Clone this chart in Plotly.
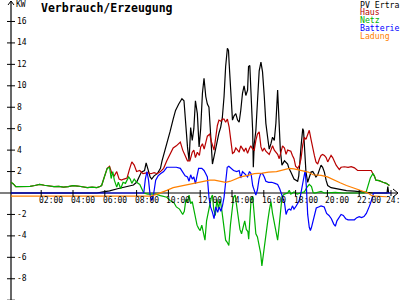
import plotly.graph_objects as go

# ---------------- data ----------------
night_t = [0.1, 0.25, 0.4, 0.7, 1.0, 1.3, 1.6, 1.9, 2.2, 2.5, 2.8, 3.1, 3.4, 3.7, 4.0, 4.3, 4.6, 4.9, 5.2, 5.5, 5.7]
night_v = [1.0, 0.85, 0.6, 0.6, 0.58, 0.62, 0.7, 0.8, 0.72, 0.65, 0.6, 0.62, 0.55, 0.6, 0.68, 0.65, 0.6, 0.5, 0.55, 0.5, 0.6]

pv_t = [0.1, 5.5, 5.9, 6.3, 6.8, 7.2, 7.5, 7.8, 8.0, 8.1, 8.3, 8.5, 8.6, 8.7, 8.85, 8.95, 9.1, 9.3, 9.5, 9.6,
        9.75, 9.93, 10.1, 10.3, 10.45, 10.65, 10.85, 10.98, 11.08, 11.2, 11.3, 11.4, 11.5, 11.6, 11.7, 11.82,
        11.93, 12.03, 12.14, 12.24, 12.35, 12.45, 12.55, 12.66, 12.77, 12.87, 12.98, 13.08, 13.18, 13.29, 13.39,
        13.5, 13.6, 13.71, 13.78, 13.82, 13.92, 14.03, 14.13, 14.24, 14.35, 14.45, 14.55, 14.66, 14.76, 14.87,
        14.98, 15.04, 15.12, 15.18, 15.3, 15.34, 15.4, 15.5, 15.6, 15.71, 15.82, 15.92, 16.03, 16.13, 16.24,
        16.34, 16.45, 16.55, 16.66, 16.76, 16.87, 16.95, 17.04, 17.14, 17.3, 17.5, 17.58, 17.7, 17.9, 18.13,
        18.2, 18.34, 18.45, 18.5, 18.59, 18.65, 18.76, 18.86, 18.97, 19.08, 19.18, 19.28, 19.39, 19.5, 19.6,
        19.7, 19.81, 19.92, 20.02, 20.23, 20.55, 20.86, 21.2, 21.7, 22.13, 22.76, 22.88, 23.75, 23.8, 23.85]
pv_v = [0, 0, 0.1, 0.2, 0.4, 0.55, 0.6, 0.75, 1.0, 1.35, 1.95, 2.1, 2.8, 2.3, 1.5, 1.3, 1.6, 1.8, 2.3, 3.0,
        3.8, 4.6, 5.7, 6.9, 7.7, 8.3, 8.8, 8.6, 6.5, 4.3, 3.0, 6.1, 4.9, 6.0, 8.6, 7.4,
        4.3, 6.0, 9.3, 10.7, 9.0, 8.3, 8.0, 5.8, 2.7, 3.4, 4.2, 5.1, 5.6, 6.15, 7.0,
        9.0, 11.8, 13.5, 13.3, 12.1, 9.6, 6.8, 7.2, 7.4, 6.8, 6.6, 7.7, 9.3, 10.0, 9.1,
        9.6, 11.8, 11.9, 9.6, 5.8, 2.4, 4.6, 5.8, 9.0, 11.4, 12.2, 11.3, 9.0, 6.5, 5.2,
        4.1, 4.6, 5.2, 4.9, 6.5, 9.6, 7.0, 4.0, 2.6, 3.0, 2.7, 2.3, 1.95, 1.3, 1.1,
        1.6, 4.3, 6.0, 5.8, 3.7, 2.0, 1.0, 1.4, 1.95, 2.0, 1.7, 1.5, 1.7, 2.26, 2.6,
        2.4, 1.95, 1.17, 0.7, 0.5, 0.4, 0.35, 0.23, 0.17, 0.1, 0.05, 0.0, 0.0, 0.6, 0.0]

haus_day_t = [5.8, 5.95, 6.15, 6.3, 6.45, 6.6, 6.75, 6.9, 7.05, 7.2, 7.4, 7.55, 7.7, 7.85, 8.0, 8.2, 8.4, 8.7, 8.9,
              9.1, 9.3, 9.5, 9.7, 9.9, 10.1, 10.3, 10.5, 10.75, 10.9, 11.05, 11.2, 11.35, 11.5, 11.6, 11.7, 11.82,
              11.95, 12.03, 12.14, 12.25, 12.35, 12.45, 12.6, 12.7, 12.87, 12.98, 13.08, 13.18, 13.3, 13.4, 13.5,
              13.6, 13.71, 13.82, 13.92, 14.03, 14.13, 14.24, 14.35, 14.45, 14.55, 14.66, 14.76, 14.87, 14.98,
              15.08, 15.18, 15.3, 15.4, 15.5, 15.6, 15.71, 15.82, 15.92, 16.03, 16.13, 16.24, 16.34, 16.45, 16.55,
              16.66, 16.76, 16.87, 16.97, 17.08, 17.18, 17.3, 17.4, 17.5, 17.7, 17.8, 17.9, 18.0, 18.13, 18.25,
              18.34, 18.45, 18.55, 18.65, 18.76, 18.86, 18.97, 19.08, 19.18, 19.28, 19.39, 19.5, 19.6, 19.7, 19.81,
              19.92, 20.02, 20.12, 20.23, 20.33, 20.44, 20.55, 20.65, 20.75, 20.86, 21.07, 21.3, 21.5, 21.7, 21.9,
              22.1, 22.33, 22.55, 22.76]
haus_day_v = [0.7, 1.4, 2.3, 2.5, 1.8, 1.6, 2.0, 1.3, 1.2, 1.3, 1.4, 2.2, 2.9, 2.6, 2.0, 2.1, 1.8, 1.9, 1.8,
              1.9, 1.8, 2.0, 2.3, 3.0, 3.6, 4.2, 4.4, 4.75, 4.0, 3.4, 3.0, 3.0, 3.8, 4.0, 3.3, 3.8,
              3.5, 4.3, 4.6, 4.1, 4.8, 5.3, 5.5, 4.8, 4.0, 5.2, 6.3, 6.8, 6.7, 6.9, 6.9,
              6.6, 6.9, 6.15, 5.0, 3.7, 3.8, 4.2, 4.0, 3.8, 4.4, 4.1, 3.9, 4.2, 3.7,
              4.1, 4.4, 4.1, 4.0, 4.9, 5.5, 5.7, 4.3, 3.9, 4.2, 3.9, 3.7, 3.6, 4.0, 4.4,
              4.0, 3.8, 3.6, 3.2, 4.0, 4.4, 4.2, 3.6, 4.0, 3.9, 3.5, 3.2, 2.5, 2.3, 2.6,
              3.2, 4.5, 5.2, 5.0, 5.5, 5.85, 5.0, 4.1, 3.5, 2.9, 2.7, 3.2, 3.5, 3.6, 3.5,
              3.3, 2.9, 3.2, 3.5, 3.3, 2.9, 2.6, 2.4, 2.2, 2.4, 2.45, 2.4, 2.45, 2.35, 2.1,
              2.1, 2.1, 2.1, 2.1]

netz_day_t = [5.8, 5.95, 6.15, 6.3, 6.4, 6.5, 6.6, 6.75, 6.85, 7.0, 7.15, 7.3, 7.5, 7.6, 7.7, 7.85, 8.0, 8.2,
              8.35, 8.45, 8.7, 9.2, 9.5, 9.9, 10.1, 10.35, 10.5, 10.7, 10.9, 11.0, 11.1, 11.2, 11.3, 11.4, 11.5,
              11.6, 11.7, 11.8, 11.9, 12.0, 12.1, 12.2, 12.3, 12.4, 12.5, 12.6, 12.7, 12.77, 12.85, 12.95, 13.05,
              13.15, 13.25, 13.35, 13.5, 13.6, 13.7, 13.8, 13.9, 14.0, 14.1, 14.2, 14.3, 14.4, 14.5, 14.6, 14.7,
              14.8, 14.9, 15.0, 15.05, 15.12, 15.2, 15.3, 15.4, 15.5, 15.6, 15.7, 15.8, 15.88, 15.95, 16.05, 16.15,
              16.25, 16.35, 16.45, 16.55, 16.65, 16.75, 16.87, 16.95, 17.05, 17.15, 17.3, 17.5, 17.6, 17.7, 17.9,
              18.1, 18.3, 18.55, 18.7, 18.86, 19.0, 19.1, 19.2, 19.6, 19.8, 20.5, 21.0, 22.3, 22.44, 22.6, 22.7,
              22.86, 22.95, 23.05, 23.25, 23.5, 23.7, 23.9]
netz_day_v = [0.7, 1.4, 2.3, 2.4, 1.35, 2.0, 1.2, 0.55, 1.0, 0.4, 1.0, 0.9, 1.5, 1.3, 0.9, 1.3, 1.0, 0.8,
              0.2, 0.0, -0.1, -0.1, -0.25, -0.4, -0.7, -0.9, -1.3, -1.5, -2.0, -1.7, -0.6, -0.8, -0.2, -1.0, -0.8,
              -1.6, -2.3, -3.0, -3.3, -3.5, -3.0, -3.6, -4.4, -2.6, -1.8, -1.3, -0.4, -0.2, -1.5, -2.1, -0.6,
              -1.5, -0.6, -1.5, -3.0, -4.4, -4.6, -4.9, -3.0, -1.8, -0.4, -0.2, -1.3, -2.6, -3.4, -3.8, -3.2,
              -2.6, -3.4, -3.6, -4.3, -2.4, -0.6, -0.3, -1.9, -3.8, -4.1, -4.75, -5.6, -6.8, -5.9, -5.0, -3.4,
              -2.6, -1.6, -0.8, -1.9, -2.6, -3.5, -4.4, -3.3, -1.4, -0.3, -0.1, 0.0, 0.25, -0.1, 0.1,
              -0.1, 0.0, 0.1, 0.5, 0.8, 0.6, 0.05, 0.0, 0.15, 0.0, 0.05, 0.0, 0.0, 0.1, 0.8, 1.4,
              1.8, 1.6, 1.2, 1.15, 1.0, 0.9, 0.7]

haus_t = night_t + haus_day_t + netz_day_t[netz_day_t.index(22.86):]
haus_v = night_v + haus_day_v + netz_day_v[netz_day_t.index(22.86):]
netz_t = night_t + netz_day_t
netz_v = night_v + netz_day_v

batt_t = [0.1, 8.45, 8.55, 8.65, 8.75, 8.85, 8.95, 9.05, 9.2, 9.35, 9.5, 9.7, 9.9, 10.2, 10.5, 10.75, 10.9, 11.05,
          11.2, 11.3, 11.4, 11.5, 11.6, 11.7, 11.8, 11.9, 12.1, 12.24, 12.35, 12.45, 12.55, 12.65, 12.77, 12.87,
          12.98, 13.1, 13.2, 13.3, 13.4, 13.5, 13.6, 13.7, 13.8, 13.92, 14.1, 14.3, 14.45, 14.55, 14.66, 14.8,
          14.98, 15.1, 15.2, 15.3, 15.42, 15.5, 15.6, 15.7, 15.8, 15.92, 16.03, 16.13, 16.3, 16.5, 16.7, 16.87,
          17.0, 17.1, 17.2, 17.3, 17.4, 17.5, 17.6, 17.7, 17.8, 17.9, 18.0, 18.1, 18.2, 18.3, 18.4, 18.5, 18.6,
          18.68, 18.76, 18.86, 18.93, 19.0, 19.1, 19.2, 19.3, 19.45, 19.6, 19.8, 19.95, 20.1, 20.25, 20.4, 20.5,
          20.6, 20.75, 20.86, 21.0, 21.15, 21.3, 21.5, 21.7, 21.85, 22.0, 22.15, 22.3, 22.45, 22.55, 22.65,
          22.75, 22.9, 24.0]
batt_v = [0, 0, 1.3, 2.0, 1.2, -0.2, -0.7, -0.3, 1.2, 1.6, 1.8, 2.0, 2.4, 2.4, 2.4, 2.3, 2.0, 1.6,
          1.5, 1.1, 1.7, 1.3, 1.5, 0.85, 1.6, 2.3, 2.3, 2.1, 1.8, 1.5, -0.4, -1.3, -1.8, -2.4,
          -1.3, -1.8, -1.3, -1.7, -1.2, -0.4, 1.0, 2.4, 2.5, 2.3, 2.1, 2.0, 2.1, 1.4, 2.0, 1.8,
          1.5, 2.0, 1.8, 0.7, 0.2, -0.2, 0.3, 1.3, 1.8, 1.8, 1.5, 1.1, 1.0, 1.0, 0.9, 0.8,
          0.4, 0.0, -0.4, -0.9, -2.0, -1.6, -1.5, -1.6, -1.2, -1.5, -1.3, -1.0, -0.8, -0.3, 0.5, 1.5, 2.1,
          0.5, -2.0, -3.2, -3.5, -3.2, -2.5, -1.8, -1.4, -1.3, -1.2, -1.3, -1.9, -2.1, -2.4, -2.9, -3.1,
          -2.6, -2.2, -2.0, -2.1, -2.4, -2.5, -2.5, -2.5, -2.3, -2.2, -2.3, -2.2, -1.9, -1.6, -1.2,
          -0.8, 0.0, 0.0]

lad_t = [0.1, 8.85, 9.2, 9.5, 9.9, 10.3, 10.8, 11.2, 11.6, 11.9, 12.2, 12.6, 12.9, 13.3, 13.6, 13.9, 14.2, 14.55,
         15.0, 15.4, 15.9, 16.3, 16.8, 17.2, 17.6, 17.9, 18.3, 18.8, 19.1, 19.6, 20.0, 20.4, 20.8, 21.2, 21.6,
         22.0, 22.3, 22.55, 22.8, 23.0, 23.7]
lad_v = [-0.3, -0.3, -0.15, 0.0, 0.25, 0.5, 0.65, 0.75, 0.85, 0.95, 1.1, 1.2, 1.2, 1.1, 1.0, 1.1, 1.3, 1.5,
         1.65, 1.8, 1.85, 1.95, 2.0, 2.15, 2.3, 2.25, 2.1, 1.95, 1.7, 1.65, 1.5, 1.2, 0.95, 0.7, 0.5,
         0.3, 0.1, 0.0, -0.25, -0.3, -0.35]

x_tick_hours = [2, 4, 6, 8, 10, 12, 14, 16, 18, 20, 22, 24]
x_tick_labels = ["02:00", "04:00", "06:00", "08:00", "10:00", "12:00", "14:00", "16:00", "18:00", "20:00", "22:00", "24:"]
y_tick_values = [-10, -8, -6, -4, -2, 2, 4, 6, 8, 10, 12, 14, 16]

legend_names = ["PV Ertra", "Haus", "Netz", "Batterie", "Ladung"]
colors = ["#000000", "#b80000", "#00b000", "#0000ff", "#ff8000"]

# ---------------- geometry helpers (pixel -> data) ----------------
X0, XS = 9.4, 15.9      # px of 0h, px per hour
Y0, YS = 193.0, 10.72   # px of 0 kW, px per kW


def H(px):
    return (px - X0) / XS


def V(py):
    return (Y0 - py) / YS


FONT = "DejaVu Sans Mono"

fig = go.Figure()
series = [(pv_t, pv_v), (haus_t, haus_v), (netz_t, netz_v), (batt_t, batt_v), (lad_t, lad_v)]
for (t, v), name, c in zip(series, legend_names, colors):
    fig.add_trace(go.Scatter(x=t, y=v, mode="lines", name=name,
                             line=dict(color=c, width=1.2), showlegend=False, hoverinfo="skip"))

shapes = []
# axes
yaxis_x = H(11)
shapes.append(dict(type="line", xref="x", yref="y", x0=yaxis_x, x1=yaxis_x, y0=V(300), y1=V(1),
                   line=dict(color="black", width=1.2), layer="below"))
shapes.append(dict(type="line", xref="x", yref="y", x0=H(0), x1=H(398), y0=0, y1=0,
                   line=dict(color="black", width=1.2), layer="below"))
# arrows
for (ax, ay) in [(8, 5), (14, 5)]:
    shapes.append(dict(type="line", xref="x", yref="y", x0=yaxis_x, y0=V(1), x1=H(ax), y1=V(ay),
                       line=dict(color="black", width=1)))
for (ax, ay) in [(393, 189), (393, 197)]:
    shapes.append(dict(type="line", xref="x", yref="y", x0=H(398), y0=0, x1=H(ax), y1=V(ay),
                       line=dict(color="black", width=1)))
# ticks
for yv in y_tick_values:
    shapes.append(dict(type="line", xref="x", yref="y", x0=H(7), x1=H(15), y0=yv, y1=yv,
                       line=dict(color="black", width=1)))
for h in x_tick_hours:
    shapes.append(dict(type="line", xref="x", yref="y", x0=h, x1=h, y0=V(190), y1=V(196),
                       line=dict(color="black", width=1)))

annotations = []
for yv in y_tick_values:
    annotations.append(dict(x=H(14.5), y=yv, xref="x", yref="y", text=str(yv), showarrow=False,
                            xanchor="left", yanchor="middle", font=dict(family=FONT, size=8, color="black")))
for h, lab in zip(x_tick_hours, x_tick_labels):
    shift = -3 if len(lab) > 3 else -6
    annotations.append(dict(x=h, y=V(200), xref="x", yref="y", text=lab, showarrow=False, xshift=shift,
                            xanchor="left", yanchor="middle", borderpad=0,
                            font=dict(family=FONT, size=8, color="black")))
annotations.append(dict(x=14 / 400, y=1 - 4.5 / 300, xref="paper", yref="paper", text="KW", showarrow=False,
                        xanchor="left", yanchor="middle", font=dict(family=FONT, size=8, color="black")))
annotations.append(dict(x=39 / 400, y=1 - 7.5 / 300, xref="paper", yref="paper",
                        text="<b>Verbrauch/Erzeugung</b>", showarrow=False,
                        xanchor="left", yanchor="middle", font=dict(family=FONT, size=11.5, color="black")))
for i, (name, c) in enumerate(zip(legend_names, colors)):
    annotations.append(dict(x=358.5 / 400, y=1 - (4.5 + 7.9 * i) / 300, xref="paper", yref="paper",
                            text=name, showarrow=False, xanchor="left", yanchor="middle", borderpad=0,
                            font=dict(family=FONT, size=8.2, color=c)))

fig.update_layout(
    width=400, height=300, margin=dict(l=0, r=0, t=0, b=0),
    paper_bgcolor="white", plot_bgcolor="white",
    xaxis=dict(range=[H(0), H(400)], visible=False, fixedrange=True),
    yaxis=dict(range=[V(300), V(0)], visible=False, fixedrange=True),
    shapes=shapes, annotations=annotations, showlegend=False,
)

fig.write_html("out.html")
